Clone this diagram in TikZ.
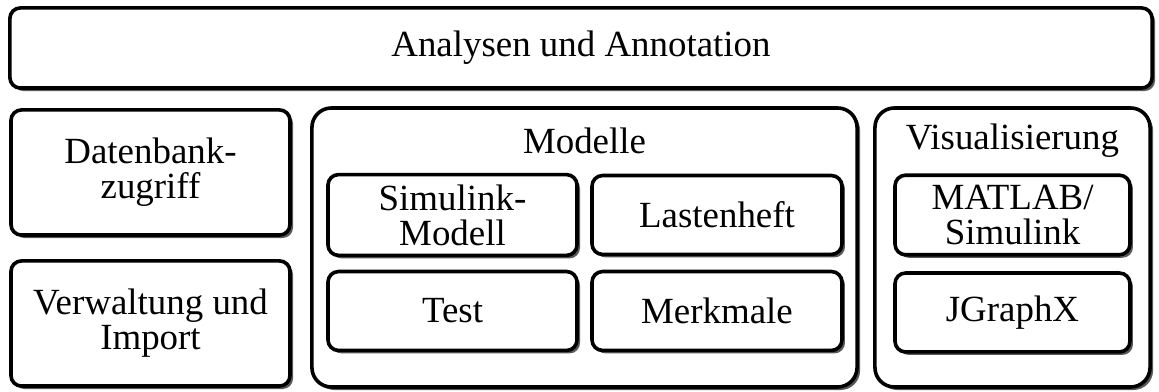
\documentclass[tikz,border=0pt]{standalone}
\usepackage{fontspec}
\setmainfont{Liberation Serif}
\usetikzlibrary{shadows}

\begin{document}
\begin{tikzpicture}[x=0.3333pt, y=-0.3333pt,
	box/.style={draw, line width=1.2pt, rounded corners=3.5pt, fill=white, align=center,
		font=\fontsize{12.3}{11.6}\selectfont,
		drop shadow={shadow xshift=1pt, shadow yshift=-1pt, fill=black!65, opacity=1}},
	group/.style={box, rounded corners=6.5pt},
	title/.style={font=\fontsize{12.3}{11.6}\selectfont}]
	\useasboundingbox (0,0) rectangle (1159,392);
	
	%top bar
	\node[box, minimum width=380.7pt, minimum height=26.7pt] (ana) at (581,48) {Analysen und Annotation};
	
	%left column
	\node[box, minimum width=93pt, minimum height=41.7pt] (db) at (150.5,172.5) {Datenbank-\\zugriff};
	\node[box, minimum width=93pt, minimum height=41.7pt] (vw) at (150.5,323.5) {Verwaltung und\\Import};
	
	%models
	\node[group, minimum width=181.7pt, minimum height=93pt] (mod) at (584.5,247.5) {};
	\node[title] (modt) at (584.5,141) {Modelle};
	\node[box, minimum width=83pt, minimum height=26.3pt] (sim) at (452.5,215) {Simulink-\\Modell};
	\node[box, minimum width=83.3pt, minimum height=26.3pt] (last) at (717,215) {Lastenheft};
	\node[box, minimum width=83pt, minimum height=26.3pt] (test) at (452.5,311) {Test};
	\node[box, minimum width=83.3pt, minimum height=26.3pt] (merk) at (717,311) {Merkmale};
	
	%visualisation
	\node[group, minimum width=91.7pt, minimum height=93pt] (vis) at (1012.5,247.5) {};
	\node[title] (vist) at (1012.5,141) {Visualisierung};
	\node[box, minimum width=78.3pt, minimum height=26.3pt] (mat) at (1012.5,215) {MATLAB/\\Simulink};
	\node[box, minimum width=78.3pt, minimum height=26.3pt] (jg) at (1012.5,312.5) {JGraphX};
\end{tikzpicture}
\end{document}
